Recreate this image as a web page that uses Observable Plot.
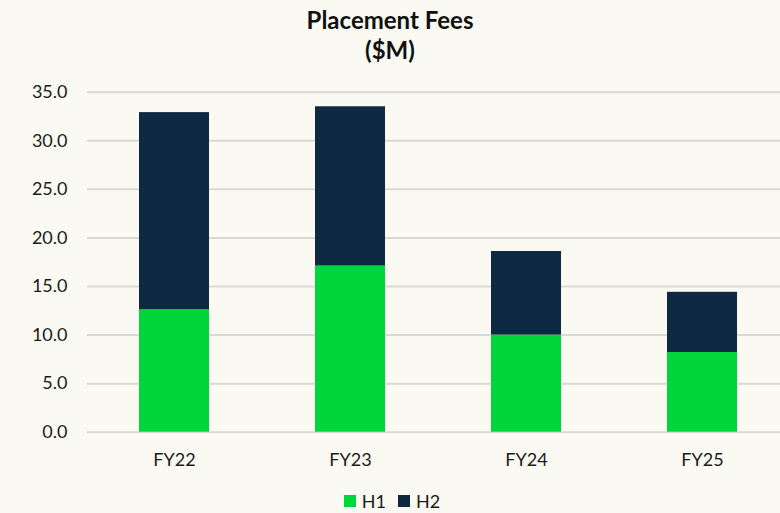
<!DOCTYPE html>
<html>
<head>
<meta charset="utf-8">
<script src="https://cdn.jsdelivr.net/npm/d3@7"></script>
<script src="https://cdn.jsdelivr.net/npm/@observablehq/plot@0.6"></script>
<style>
  html, body { margin: 0; padding: 0; }
  body { width: 780px; height: 513px; overflow: hidden; background: #fafaf2; font-family: Lato, "Open Sans", sans-serif; color: #1a1a1a; }
  #title { height: 80px; box-sizing: border-box; padding-top: 5px; text-align: center; font-weight: bold; font-size: 24px; line-height: 30px; color: #111; }
  #legend { height: 33px; display: flex; justify-content: center; align-items: flex-start; gap: 12px; font-size: 18px; line-height: 20px; padding-left: 4px; box-sizing: border-box; padding-top: 11px; }
  .item { display: flex; align-items: center; gap: 6px; }
  .sw { width: 12px; height: 12px; display: inline-block; }
  svg { display: block; }
</style>
</head>
<body>
<div id="title">Placement Fees<br>($M)</div>
<div id="chart"></div>
<div id="legend"></div>
<script>
const categories = ["FY22", "FY23", "FY24", "FY25"];
const seriesNames = ["H1", "H2"];
const h1 = [12.6, 17.1, 10.0, 8.2];
const h2 = [20.3, 16.4, 8.6, 6.2];
const yTicks = [0, 5, 10, 15, 20, 25, 30, 35];
const colors = ["#00d639", "#102942"];

const rows = [];
categories.forEach((c, i) => {
  rows.push({cat: c, series: "H1", value: h1[i]});
  rows.push({cat: c, series: "H2", value: h2[i]});
});

const chart = Plot.plot({
  width: 780,
  height: 400,
  marginLeft: 87,
  marginRight: 0,
  marginTop: 11.7,
  marginBottom: 48.3,
  style: {background: "transparent", fontFamily: "Lato, 'Open Sans', sans-serif", fontSize: "18px", color: "#1a1a1a"},
  x: {domain: categories, range: [86.5, 790.5], paddingInner: 0.6, paddingOuter: 0.3, label: null},
  y: {domain: [0, 35], label: null},
  color: {domain: seriesNames, range: colors},
  marks: [
    Plot.gridY(yTicks, {stroke: "#d9d9d9", strokeOpacity: 1, strokeWidth: 2}),
    Plot.barY(rows, Plot.stackY({x: "cat", y: "value", fill: "series", order: seriesNames, inset: 0})),
    Plot.axisY(yTicks, {tickSize: 0, tickPadding: 20, tickFormat: d => d.toFixed(1), label: null}),
    Plot.axisX({tickSize: 0, tickPadding: 21, label: null})
  ]
});
document.getElementById("chart").appendChild(chart);

const legend = document.getElementById("legend");
seriesNames.forEach((s, i) => {
  const item = document.createElement("span");
  item.className = "item";
  const sw = document.createElement("span");
  sw.className = "sw";
  sw.style.background = colors[i];
  item.appendChild(sw);
  item.appendChild(document.createTextNode(s));
  legend.appendChild(item);
});
</script>
</body>
</html>
